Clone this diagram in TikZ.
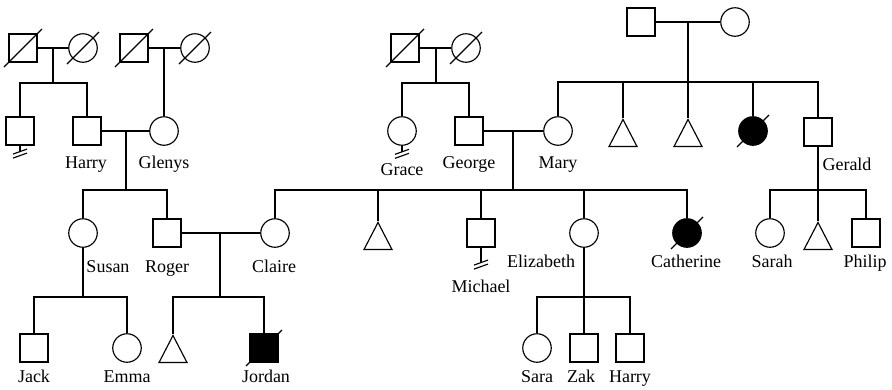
\documentclass[tikz,border=0pt]{standalone}
\usepackage{fontspec}
\setmainfont{Liberation Serif}
\usetikzlibrary{shapes.geometric}
\newcommand\noissue[2]{%
  \draw (#1.south) -- ++(0,#2) coordinate (#1-end);
  \draw ([shift={(-7,2.5)}]#1-end) -- ([shift={(7,-2.5)}]#1-end);
  \draw ([shift={(-7,6.5)}]#1-end) -- ([shift={(7,1.5)}]#1-end);
}
\begin{document}
\begin{tikzpicture}[x=1pt, y=-1pt, line width=1.15pt,
    male/.style={draw, rectangle, minimum size=28, inner sep=0},
    female/.style={draw, circle, minimum size=28.5, inner sep=0},
    unknown/.style={draw, isosceles triangle, isosceles triangle stretches, shape border rotate=90,
      minimum width=28, minimum height=27, inner sep=0, anchor=apex},
    affected/.style={fill=black},
    lbl/.style={font=\fontsize{18}{20}\selectfont, anchor=base, inner sep=0}]
    \useasboundingbox (0,0) rectangle (892,389);
    % generation I
    \node[male]   (gf1) at (23,48) {};  \node[female] (gm1) at (83,48) {};
    \node[male]   (gf2) at (134,48) {}; \node[female] (gm2) at (195,48) {};
    \node[male]   (gf3) at (405,48) {}; \node[female] (gm3) at (466,48) {};
    \node[male]   (gf4) at (641,22) {}; \node[female] (gm4) at (735,22) {};
    % generation II
    \node[male]   (uncle)  at (20,131) {};
    \node[male]   (harry)  at (87,131) {};
    \node[female] (glenys) at (164,131) {};
    \node[female] (grace)  at (402,131) {};
    \node[male]   (george) at (469,131) {};
    \node[female] (mary)   at (558,131) {};
    \node[unknown] (tri1)  at (623,118) {};
    \node[unknown] (tri2)  at (688,118) {};
    \node[female, affected] (aunt) at (753,131) {};
    \node[male]   (gerald) at (818,132) {};
    % generation III
    \node[female] (susan)     at (83,233) {};
    \node[male]   (roger)     at (167,233) {};
    \node[female] (claire)    at (275,233) {};
    \node[unknown] (tri3)     at (378,221) {};
    \node[male]   (michael)   at (481,233) {};
    \node[female] (elizabeth) at (584,233) {};
    \node[female, affected] (catherine) at (687,233) {};
    \node[female] (sarah)     at (770,233) {};
    \node[unknown] (tri4)     at (818,221) {};
    \node[male]   (philip)    at (866,233) {};
    % generation IV
    \node[male]   (jack)   at (34,348) {};
    \node[female] (emma)   at (127,348) {};
    \node[unknown] (tri5)  at (173,334) {};
    \node[male, affected] (jordan) at (264,348) {};
    \node[female] (sara)   at (537,348) {};
    \node[male]   (zak)    at (584,348) {};
    \node[male]   (harry2) at (630,348) {};
    % couples and sibships
    \coordinate (m1) at (53,48);    \coordinate (s1) at (53,83);
    \coordinate (m2) at (164,48);
    \coordinate (m3) at (436,48);   \coordinate (s3) at (436,83);
    \coordinate (m4) at (688,22);   \coordinate (s4) at (688,82);
    \coordinate (hg) at (126,131);  \coordinate (hgs) at (126,190);
    \coordinate (gm) at (513,131);  \coordinate (gms) at (513,190);
    \coordinate (rc) at (220,233);  \coordinate (rcs) at (220,297);
    \coordinate (gs) at (818,190);
    \coordinate (ss) at (83,297);
    \coordinate (es) at (584,297);
    \draw (gf1) -- (gm1); \draw (gf2) -- (gm2); \draw (gf3) -- (gm3); \draw (gf4) -- (gm4);
    \draw (harry) -- (glenys); \draw (george) -- (mary); \draw (roger) -- (claire);
    \draw (m1) -- (s1); \draw (uncle.north) |- (s1) -| (harry.north);
    \draw (m2) -- (glenys.north);
    \draw (m3) -- (s3); \draw (grace.north) |- (s3) -| (george.north);
    \draw (m4) -- (s4); \draw (mary.north) |- (s4) -| (gerald.north);
    \draw (tri1.apex) -- (tri1.apex |- s4); \draw (tri2.apex) -- (s4);
    \draw (aunt.north) -- (aunt.north |- s4);
    \draw (hg) -- (hgs); \draw (susan.north) |- (hgs) -| (roger.north);
    \draw (gm) -- (gms); \draw (claire.north) |- (gms) -| (catherine.north);
    \draw (tri3.apex) -- (tri3.apex |- gms);
    \foreach \c in {michael, elizabeth} \draw (\c.north) -- (\c.north |- gms);
    \draw (gerald) -- (gs); \draw (sarah.north) |- (gs) -| (philip.north); \draw (gs) -- (tri4.apex);
    \draw (rc) -- (rcs); \draw (tri5.apex) |- (rcs) -| (jordan.north);
    \draw (susan) -- (ss); \draw (jack.north) |- (ss) -| (emma.north);
    \draw (elizabeth) -- (es); \draw (sara.north) |- (es) -| (harry2.north); \draw (es) -- (zak.north);
    % deceased
    \foreach \p in {gf1, gf2, gf3}
        \draw ([shift={(-19,19)}]\p.center) -- ([shift={(19,-19)}]\p.center);
    \foreach \p in {gm1, gm2, gm3, aunt, catherine}
        \draw ([shift={(-16,16)}]\p.center) -- ([shift={(16,-16)}]\p.center);
    \draw ([shift={(-18,18)}]jordan.center) -- ([shift={(18,-18)}]jordan.center);
    % no offspring
    \noissue{uncle}{6}
    \noissue{grace}{6}
    \noissue{michael}{15}
    % names
    \node[lbl] (l-harry)  at (86,168.5) {Harry};
    \node[lbl] (l-glenys) at (164,168.5) {Glenys};
    \node[lbl] (l-grace)  at (402,175) {Grace};
    \node[lbl] (l-george) at (469,168.5) {George};
    \node[lbl] (l-mary)   at (558,168.5) {Mary};
    \node[lbl] (l-gerald) at (847,170.5) {Gerald};
    \node[lbl] (l-susan)  at (108,272) {Susan};
    \node[lbl] (l-roger)  at (167,272) {Roger};
    \node[lbl] (l-claire) at (274,272) {Claire};
    \node[lbl] (l-michael)   at (481,292) {Michael};
    \node[lbl] (l-elizabeth) at (541,267) {Elizabeth};
    \node[lbl] (l-catherine) at (686,267) {Catherine};
    \node[lbl] (l-sarah)  at (772,267) {Sarah};
    \node[lbl] (l-philip) at (865,267) {Philip};
    \node[lbl] (l-jack)   at (34,382.5) {Jack};
    \node[lbl] (l-emma)   at (127,382.5) {Emma};
    \node[lbl] (l-jordan) at (266,382.5) {Jordan};
    \node[lbl] (l-sara)   at (537,382.5) {Sara};
    \node[lbl] (l-zak)    at (581,382.5) {Zak};
    \node[lbl] (l-harry2) at (630,382.5) {Harry};
\end{tikzpicture}
\end{document}
